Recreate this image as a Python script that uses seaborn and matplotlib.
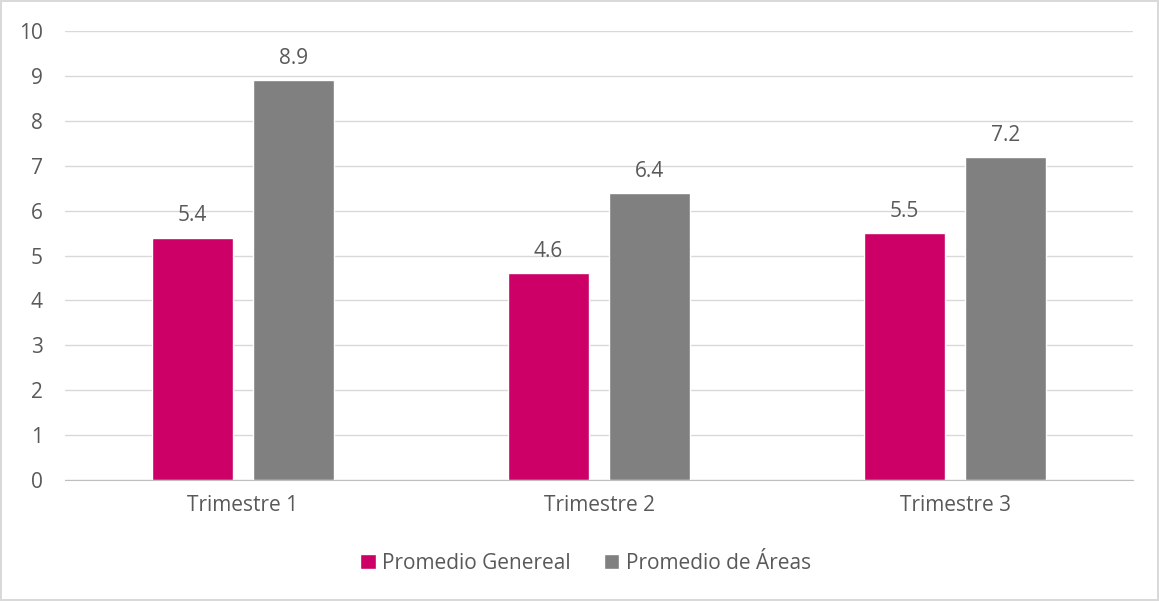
import pandas as pd
import matplotlib.pyplot as plt
import seaborn as sns

# data
trimestres = ["Trimestre 1", "Trimestre 2", "Trimestre 3"]
promedio_general = [5.4, 4.6, 5.5]
promedio_areas = [8.9, 6.4, 7.2]
series = ["Promedio Genereal", "Promedio de Áreas"]

df = pd.DataFrame({
    "Trimestre": trimestres * 2,
    "Serie": [series[0]] * 3 + [series[1]] * 3,
    "Valor": promedio_general + promedio_areas,
})

sns.set_style("white")
plt.rcParams["font.family"] = ["Open Sans", "DejaVu Sans"]
txt = "#595959"
fs = 15

fig = plt.figure(figsize=(11.59, 6.01), dpi=100)
fig.patch.set_edgecolor("#d9d9d9")
fig.patch.set_linewidth(1.5)
ax = fig.add_axes([0.0561, 0.2013, 0.9215, 0.7471])

sns.barplot(data=df, x="Trimestre", y="Valor", hue="Serie",
            palette=["#CC0066", "#808080"], width=0.57, gap=0.2,
            saturation=1, ax=ax, legend=True)

for c in ax.containers:
    ax.bar_label(c, fmt="%.1f", padding=8, fontsize=fs, color=txt)

ax.set_ylim(0, 10)
ax.set_xlim(-0.5, 2.5)
ax.set_yticks(range(0, 11))
ax.yaxis.grid(True, color="#d9d9d9", linewidth=1)
ax.set_axisbelow(True)
for s in ["top", "right", "left"]:
    ax.spines[s].set_visible(False)
ax.spines["bottom"].set_color("#bfbfbf")
ax.tick_params(axis="both", length=0, labelsize=fs, labelcolor=txt)
ax.tick_params(axis="x", pad=11)
ax.tick_params(axis="y", pad=16)
ax.set_xlabel("")
ax.set_ylabel("")

h, l = ax.get_legend_handles_labels()
ax.legend_.remove()
fig.legend(h, l, loc="center", bbox_to_anchor=(0.505, 0.063), ncol=2,
           frameon=False, fontsize=fs, labelcolor=txt,
           handlelength=0.75, handleheight=0.75, handletextpad=0.3,
           columnspacing=1.6)

fig.savefig("out.png", dpi=100, edgecolor=fig.get_edgecolor())
